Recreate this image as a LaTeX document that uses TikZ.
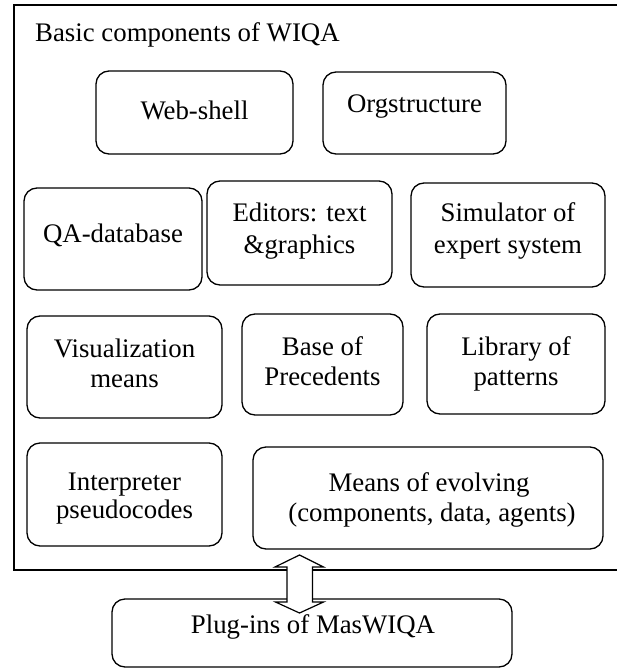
\documentclass[tikz,border=0pt]{standalone}
\usepackage{fontspec}
\setmainfont{Liberation Serif}
\usetikzlibrary{calc}

\tikzset{
  cbox/.style={draw=black, line width=1.3pt, rounded corners=13pt, inner sep=0pt, outer sep=0pt},
  lbl/.style={anchor=base, inner sep=0pt, font=\fontsize{26.8}{30}\selectfont},
  frameline/.style={draw=black, line width=1.6pt},
  twoway/.style={draw=black, line width=1.2pt, fill=white, line join=miter}
}

% component box given by its corners (x1,y1) and (x2,y2), y measured downwards
\newcommand\compbox[5]{%
  \node[cbox, minimum width={#4-#2}, minimum height={#5-#3}] (#1) at ({(#2+#4)/2},{(#3+#5)/2}) {};}

\begin{document}
\begin{tikzpicture}[x=1pt, y=-1pt]
  \useasboundingbox (0,0) rectangle (616,668);
  \fill[white] (0,0) rectangle (616,668);

  % outer frame of the WIQA components (runs past the right edge)
  \draw[frameline] (630,5) -- (14,5) -- (14,570) -- (630,570);
  \node[lbl, anchor=base west] (title) at (35,42) {Basic components of WIQA};

  % first row
  \compbox{web}{96}{71}{293}{154}
  \node[lbl] (web-t) at (194.5,120) {Web-shell};
  \compbox{org}{323}{72}{506}{154}
  \node[lbl] (org-t) at (414.5,113) {Orgstructure};

  % second row
  \compbox{qa}{24}{188}{202}{290}
  \node[lbl] (qa-t) at (113,242) {QA-database};
  \compbox{edit}{207}{181}{392}{285}
  \node[lbl] (edit-t1) at (299.5,222) {Editors: text};
  \node[lbl] (edit-t2) at (299.5,253) {\&graphics};
  \compbox{sim}{411}{183}{605}{287}
  \node[lbl] (sim-t1) at (508,222) {Simulator of};
  \node[lbl] (sim-t2) at (508,253) {expert system};

  % third row
  \compbox{vis}{27}{316}{222}{418}
  \node[lbl] (vis-t1) at (124.5,357) {Visualization};
  \node[lbl] (vis-t2) at (124.5,387) {means};
  \compbox{prec}{242}{314}{403}{415}
  \node[lbl] (prec-t1) at (322.5,355) {Base of};
  \node[lbl] (prec-t2) at (322.5,385) {Precedents};
  \compbox{lib}{427}{314}{605}{414}
  \node[lbl] (lib-t1) at (516,355) {Library of};
  \node[lbl] (lib-t2) at (516,385) {patterns};

  % fourth row
  \compbox{interp}{27}{443}{222}{546}
  \node[lbl] (interp-t1) at (124.5,490) {Interpreter};
  \node[lbl] (interp-t2) at (124.5,518) {pseudocodes};
  \compbox{means}{253}{447}{603}{549}
  \node[lbl] (means-t1) at (429,491) {Means of evolving};
  \node[lbl] (means-t2) at (432,521) {(components, data, agents)};

  % plug-ins below the frame
  \compbox{plug}{112}{599}{512}{667}
  \node[lbl] (plug-t) at (313,633) {Plug-ins of MasWIQA};

  % two-way block arrow between the evolving means and the plug-ins
  \coordinate (atop) at ($(means.south)+(-128.5,6)$);
  \coordinate (abot) at ($(plug.north)+(-12.5,14)$);
  \draw[twoway] (atop) -- ++(24,12) -- ++(-11,0) |- ($(abot)+(13,-11)$)
     -- ++(11,0) -- (abot) -- ++(-24,-11) -- ++(11.5,0) |- ($(atop)+(-12.5,12)$)
     -- ++(-12,0) -- cycle;
\end{tikzpicture}
\end{document}
